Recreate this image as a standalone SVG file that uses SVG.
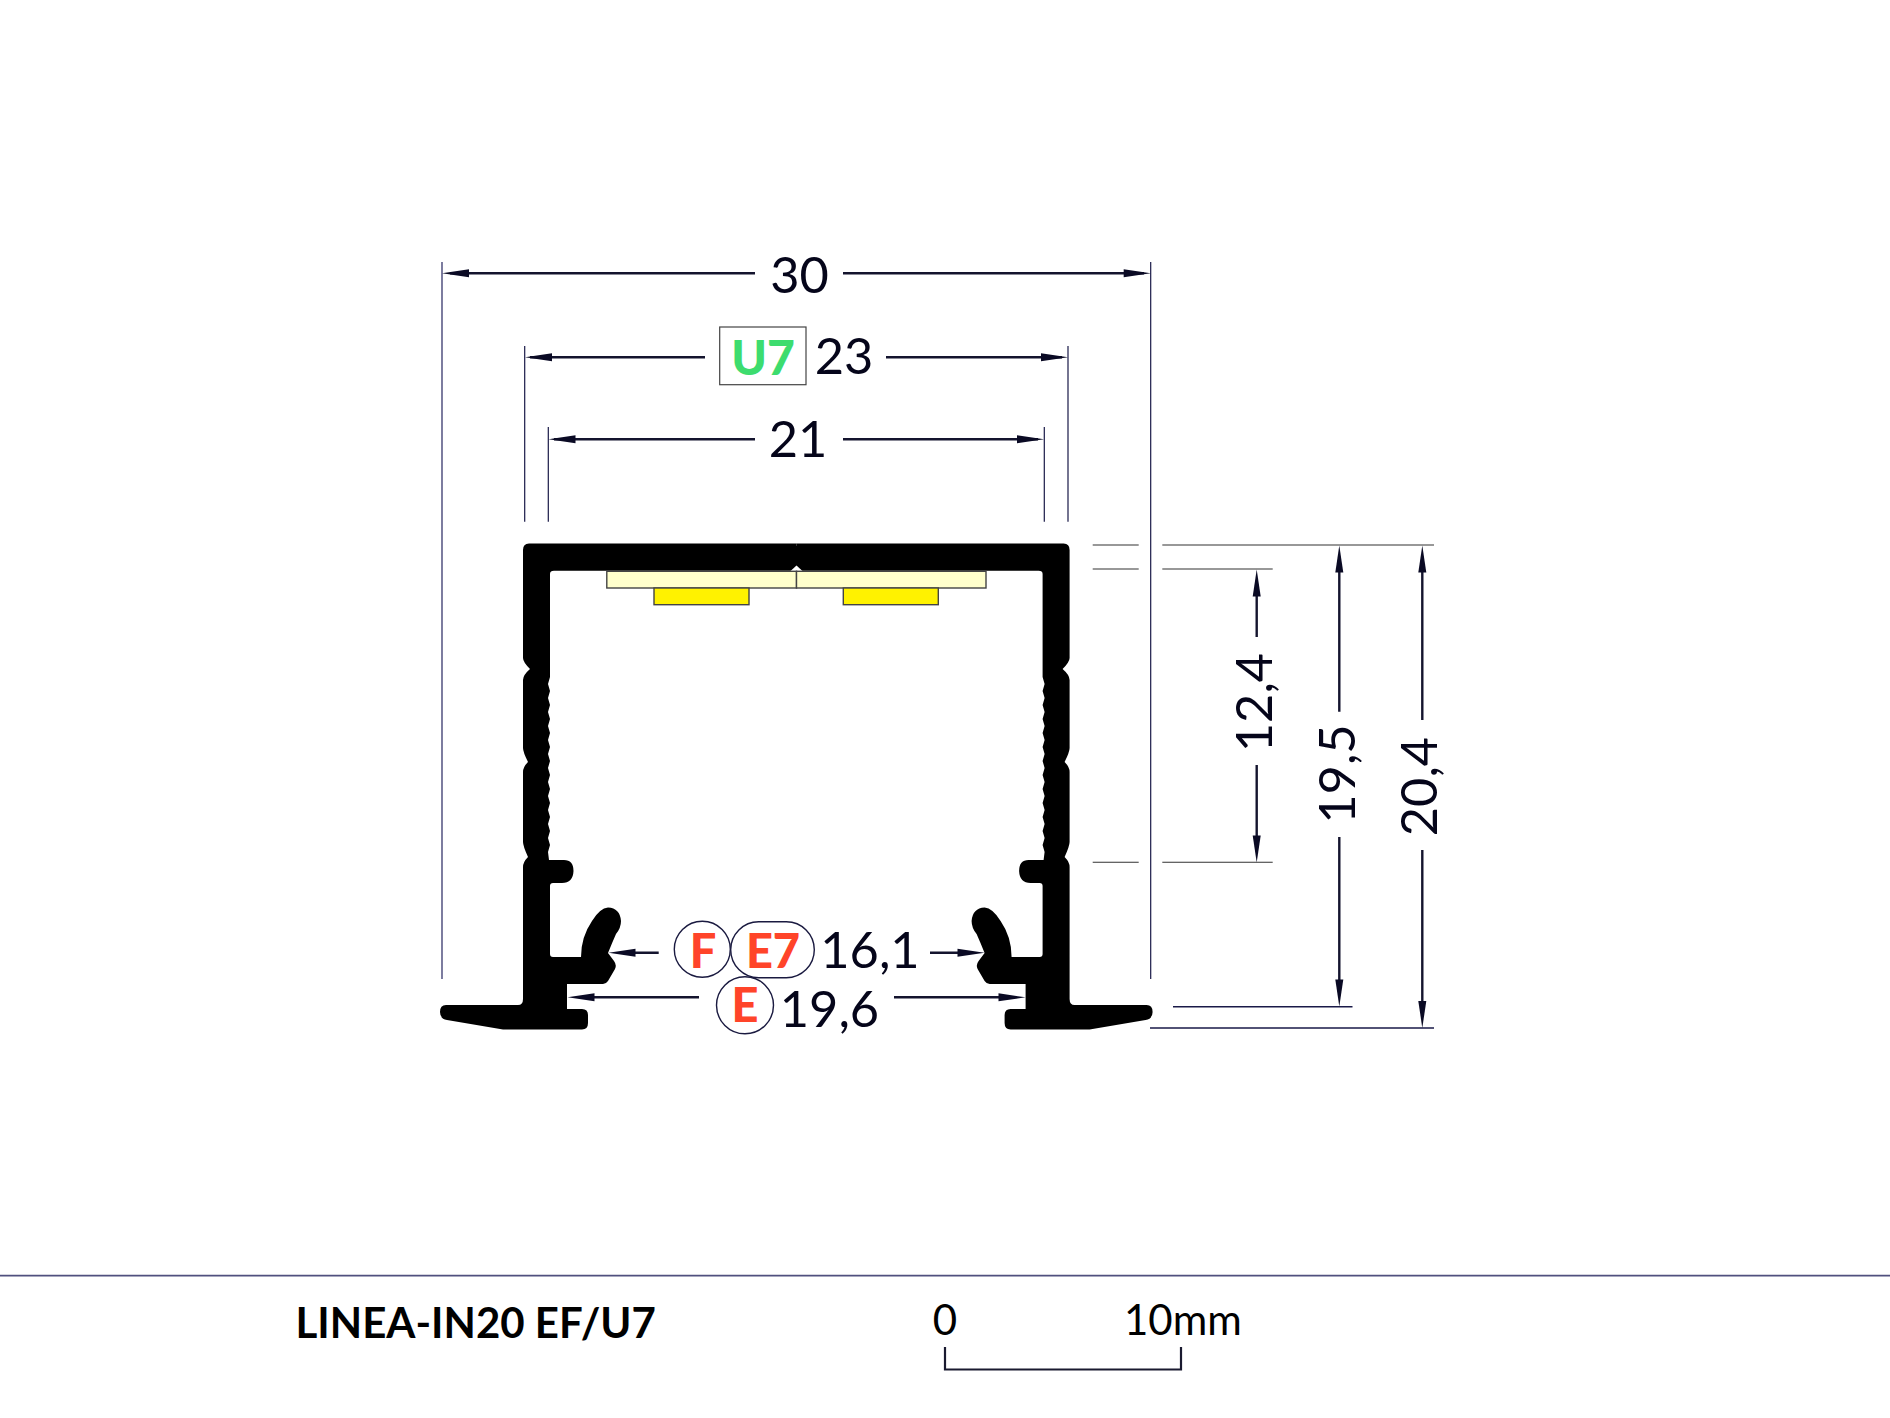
<svg xmlns="http://www.w3.org/2000/svg" xmlns:xlink="http://www.w3.org/1999/xlink" width="1890" height="1418" viewBox="0 0 1890 1418">
<style>
text{font-family:Lato,"Noto Sans","Liberation Sans",sans-serif}
.dim{font-size:50.500px;fill:#05051a;text-anchor:middle}
.code{font-size:47px;font-weight:900;fill:#ff4429;text-anchor:middle}
.ext{fill:none;stroke:#1a1a48;stroke-width:1.2}
.ext1{fill:none;stroke:#5c5c88;stroke-width:1.6}
.ext2{fill:none;stroke:#333;stroke-width:1.1}
.ext3{fill:none;stroke:#1a1a48;stroke-width:1.5}
.dl{fill:none;stroke:#14142e;stroke-width:2.4}
.ah{fill:#0a0a24}
.tag{fill:#fff;stroke:#1a1a40;stroke-width:1.4}
.foot{font-size:42px;fill:#000}
</style>
<defs>
<path id="a" d="M0 0L27-4V4Z" class="ah"/>
<path id="half" d="M796.300 543.500H529Q523 543.500 523 550V658Q523 662 530 669Q523 675 523 680V748Q523 752 528 762Q523 767 523 772V842Q523 846 528 857Q523 862 523 867V999Q523 1005 518 1005H446Q440 1005 440 1012Q440 1019 447 1020L503 1029.500H582Q588 1029.500 588 1023V1015Q588 1009 582 1009H567V984H603Q606 984 608 981L615 969Q617 965 614 961L608 953Q612 943 616 934Q621 928 621 921Q620 908 608 907.500Q600 908 592 921Q581 937 581 957H553Q550 957 550 954V886Q550 883 553 883H562Q573 883 573.500 871Q573.500 860 564 860H549L548 852 550 845 548 838 550 831 548 824 550 817 548 810 550 803 548 796 550 789 548 782 550 775 548 768 550 761 548 754 550 747 548 740 550 733 548 726 550 719 548 712 550 705 548 698 550 691 548 684 550 677V574Q550 570.700 554 570.700H796.300Z"/>
</defs>

<g id="profile">
<use xlink:href="#half" href="#half" fill="#000"/>
<use xlink:href="#half" href="#half" fill="#000" transform="matrix(-1 0 0 1 1592.600 0)"/>
<rect x="793" y="546" width="7" height="22" fill="#000"/>
<path d="M790 571.500L796.500 565.500L803 571.500Z" fill="#fff"/>
</g>

<g id="led-strip" stroke="#444" stroke-width="1.4">
<rect x="606.800" y="571.300" width="189.700" height="16.700" fill="#ffffcc"/>
<rect x="796.500" y="571.300" width="189.500" height="16.700" fill="#ffffcc"/>
<rect x="654" y="588" width="95" height="16.700" fill="#fff200"/>
<rect x="843.300" y="588" width="95" height="16.700" fill="#fff200"/>
</g>

<g id="connectors">
<path class="ext1" d="M442 262V979"/>
<path class="ext" d="M1150.700 262V979M524.700 346V521.700M1068 346V521.700M548.300 427V521.700M1044.300 427V521.700"/>
<path class="ext2" d="M1092.700 545H1138.700M1162.300 545H1434M1092.700 569H1138.700M1162.300 569H1272.700M1092.700 862.300H1138.700M1162.300 862.300H1272.700"/>
<path class="ext3" d="M1173 1006.700H1352.500M1150 1028H1434"/>
<path class="dl" d="M450 273.300H755M843 273.300H1144M530 357.300H705M886 357.300H1062M554 439.300H755M843 439.300H1038"/>
<path class="dl" d="M625 952.700H658.700M930 952.700H970M580 997.300H699M894 997.300H1012"/>
<path class="dl" d="M1256.700 585V637M1256.700 765V845M1339.300 560V711.700M1339.300 837V990M1422.300 560V720M1422.300 850V1012"/>
<use xlink:href="#a" href="#a" x="442" y="273.300"/>
<use xlink:href="#a" href="#a" transform="translate(1150.700 273.300) scale(-1 1)"/>
<use xlink:href="#a" href="#a" x="525" y="357.300"/>
<use xlink:href="#a" href="#a" transform="translate(1068 357.300) scale(-1 1)"/>
<use xlink:href="#a" href="#a" x="548.500" y="439.300"/>
<use xlink:href="#a" href="#a" transform="translate(1044 439.300) scale(-1 1)"/>
<use xlink:href="#a" href="#a" x="608.500" y="952.700"/>
<use xlink:href="#a" href="#a" transform="translate(984.500 952.700) scale(-1 1)"/>
<use xlink:href="#a" href="#a" x="567.500" y="997.300"/>
<use xlink:href="#a" href="#a" transform="translate(1025.500 997.300) scale(-1 1)"/>
<use xlink:href="#a" href="#a" transform="translate(1256.700 569.500) rotate(90)"/>
<use xlink:href="#a" href="#a" transform="translate(1256.700 862.500) rotate(-90)"/>
<use xlink:href="#a" href="#a" transform="translate(1339.300 545.500) rotate(90)"/>
<use xlink:href="#a" href="#a" transform="translate(1339.300 1006.500) rotate(-90)"/>
<use xlink:href="#a" href="#a" transform="translate(1422.300 545.500) rotate(90)"/>
<use xlink:href="#a" href="#a" transform="translate(1422.300 1028) rotate(-90)"/>
</g>

<g id="dim-30"><text class="dim" x="799.500" y="292.500">30</text></g>
<g id="dim-23"><rect x="719.700" y="327" width="86.300" height="57.700" fill="#fff" stroke="#444" stroke-width="1.200"/>
<text x="763" y="374.800" font-size="48" font-weight="900" fill="#3ddc6e" text-anchor="middle">U7</text>
<text class="dim" x="844" y="374.200">23</text></g>
<g id="dim-21"><text class="dim" x="798" y="457">21</text></g>
<g id="dim-16-1">
<circle class="tag" cx="702.300" cy="949.300" r="28"/>
<rect class="tag" x="730.700" y="921.700" width="83.600" height="56" rx="28"/>
<text class="code" x="703" y="968">F</text>
<text class="code" x="773" y="968">E7</text>
<text class="dim" x="870" y="968">16,1</text></g>
<g id="dim-19-6">
<circle class="tag" cx="745" cy="1005.300" r="28.500"/>
<text class="code" x="745" y="1022">E</text>
<text class="dim" x="829.500" y="1027">19,6</text></g>
<g id="dim-12-4"><text class="dim" transform="translate(1272 702.500) rotate(-90)">12,4</text></g>
<g id="dim-19-5"><text class="dim" transform="translate(1355 774) rotate(-90)">19,5</text></g>
<g id="dim-20-4"><text class="dim" transform="translate(1437 786.500) rotate(-90)">20,4</text></g>

<g id="footer">
<path d="M0 1275.700H1890" stroke="#50507e" stroke-width="1.700" fill="none"/>
<text class="foot" x="295.500" y="1338.300" font-weight="700">LINEA-IN20 EF/U7</text>
<text class="foot" x="945" y="1335" text-anchor="middle">0</text>
<text class="foot" x="1124" y="1335">10mm</text>
<path d="M945 1347V1369.500H1181V1347" fill="none" stroke="#1a1a30" stroke-width="2.200"/>
</g>
</svg>
